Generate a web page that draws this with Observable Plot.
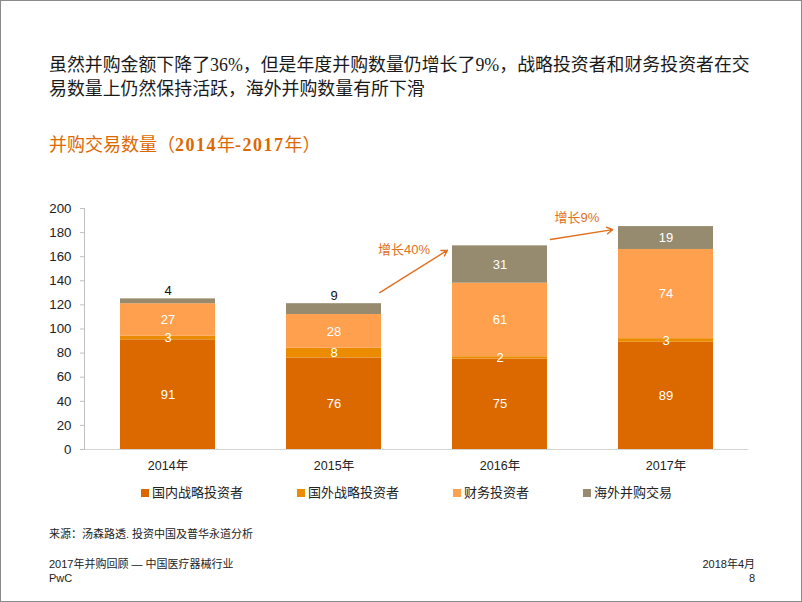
<!DOCTYPE html>
<html>
<head>
<meta charset="utf-8">
<script src="https://cdn.jsdelivr.net/npm/d3@7"></script>
<script src="https://cdn.jsdelivr.net/npm/@observablehq/plot@0.6"></script>
<style>
  html, body { margin: 0; padding: 0; background: #fff; }
  #page { position: relative; width: 800px; height: 600px; border: 1px solid #8a8a8a; overflow: hidden;
          font-family: "Liberation Sans", Arial, "Noto Sans CJK SC", sans-serif; color: #222; }
  #headline { position: absolute; left: 48px; top: 52px; font-size: 17.9px; line-height: 24px;
              font-family: "Liberation Serif", "Noto Sans CJK SC", serif; color: #1a1a1a; white-space: nowrap; }
  #subtitle { position: absolute; left: 48px; top: 132px; font-size: 18px; line-height: 24px; color: #DC6900;
              font-family: "Liberation Serif", "Noto Sans CJK SC", serif; white-space: nowrap; }
  #subtitle b { font-weight: bold; letter-spacing: 1.5px; }
  #chart { position: absolute; left: 0; top: 195px; }
  #legend { position: absolute; left: 140px; top: 483px; display: flex; gap: 54px; font-size: 13px; line-height: 18px; }
  #legend .item { display: flex; align-items: center; white-space: nowrap; }
  #legend .sw { width: 8px; height: 8px; margin-right: 3px; display: inline-block; }
  #source { position: absolute; left: 48px; top: 525px; font-size: 11px; line-height: 16px; }
  #footL { position: absolute; left: 48px; top: 556px; font-size: 11px; line-height: 14px; }
  #footR { position: absolute; right: 46px; top: 556px; font-size: 11px; line-height: 14px; text-align: right; }
</style>
</head>
<body>
<div id="page">
  <div id="headline">虽然并购金额下降了36%，但是年度并购数量仍增长了9%，战略投资者和财务投资者在交<br>易数量上仍然保持活跃，海外并购数量有所下滑</div>
  <div id="subtitle">并购交易数量（<b>2014</b>年<b>-2017</b>年）</div>
  <div id="chart"></div>
  <div id="legend"></div>
  <div id="source">来源：汤森路透. 投资中国及普华永道分析</div>
  <div id="footL">2017年并购回顾 — 中国医疗器械行业<br>PwC</div>
  <div id="footR">2018年4月<br>8</div>
</div>
<script>
// ---- data ----
const years = ["2014年", "2015年", "2016年", "2017年"];
const series = ["国内战略投资者", "国外战略投资者", "财务投资者", "海外并购交易"];
const domestic = [91, 76, 75, 89];
const foreignStrategic = [3, 8, 2, 3];
const financial = [27, 28, 61, 74];
const overseas = [4, 9, 31, 19];
const colors = ["#DC6900", "#EB8C00", "#FFA04F", "#968B6F"];
const yTicks = [0, 20, 40, 60, 80, 100, 120, 140, 160, 180, 200];
const growthLabels = ["增长40%", "增长9%"];

const valuesBySeries = [domestic, foreignStrategic, financial, overseas];
const rows = [];
years.forEach((yr, i) => {
  series.forEach((s, k) => rows.push({year: yr, series: s, value: valuesBySeries[k][i]}));
});

// annotation arrows (between 2015→2016 and 2016→2017)
const arrows = [
  {from: years[1], to: years[2], label: growthLabels[0], y1: 106.4, y2: 192.7, insetStart: 54, insetEnd: 62, ty: 166, dx: 70},
  {from: years[2], to: years[3], label: growthLabels[1], y1: 167.7, y2: 189.5, insetStart: 51, insetEnd: 54, ty: 192.5, dx: 77}
];

const isTopSmall = d => d.series === series[3] && d.value < 10;
const font = '"Liberation Sans", Arial, "Noto Sans CJK SC", sans-serif';
const accent = "#E07020";

const chart = Plot.plot({
  width: 800,
  height: 280,
  marginTop: 12,
  marginBottom: 27,
  marginLeft: 83,
  marginRight: 53,
  style: {fontFamily: font, fontSize: "13px", color: "#222", background: "transparent", overflow: "visible"},
  x: {domain: years, paddingInner: 0.43, paddingOuter: 0.215, label: null},
  y: {domain: [0, 200], label: null},
  color: {domain: series, range: colors},
  marks: [
    Plot.barY(rows, {x: "year", y: "value", fill: "series", z: "series"}),
    Plot.text(rows, Plot.stackY({x: "year", y: "value", z: "series",
      text: d => isTopSmall(d) ? null : String(d.value), fill: "#fff", fontSize: 13})),
    Plot.text(rows, Plot.stackY2({x: "year", y: "value", z: "series",
      text: d => isTopSmall(d) ? String(d.value) : null, fill: "#111", fontSize: 13, dy: -8})),
    Plot.ruleY([0], {stroke: "#d4d4d4"}),
    Plot.frame({anchor: "left", stroke: "#bfbfbf"}),
    Plot.axisY({ticks: yTicks, tickSize: 4, tickPadding: 9, stroke: "#bfbfbf", fill: "#222", fontSize: 13.3, label: null}),
    Plot.axisX({tickSize: 0, tickPadding: 12, fill: "#222", fontSize: 12.5, label: null}),
    ...arrows.map(a => Plot.arrow([a], {x1: "from", x2: "to", y1: "y1", y2: "y2",
      insetStart: a.insetStart, insetEnd: a.insetEnd, stroke: accent, strokeWidth: 1.4, headLength: 7})),
    ...arrows.map(a => Plot.text([a], {x: "from", y: "ty", dx: a.dx, text: "label", fill: accent, fontSize: 13}))
  ]
});
document.getElementById("chart").appendChild(chart);

// legend
const legend = document.getElementById("legend");
series.forEach((s, k) => {
  const item = document.createElement("div");
  item.className = "item";
  const sw = document.createElement("span");
  sw.className = "sw";
  sw.style.background = colors[k];
  item.appendChild(sw);
  item.appendChild(document.createTextNode(s));
  legend.appendChild(item);
});
</script>
</body>
</html>
